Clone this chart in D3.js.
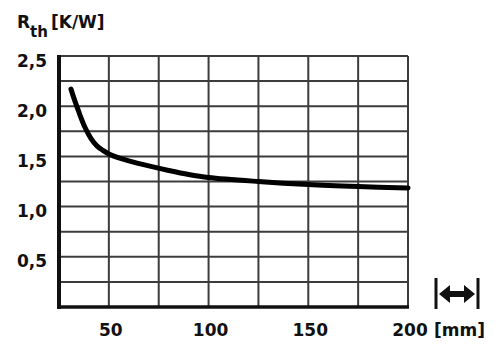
<!DOCTYPE html>
<html>
<head>
<meta charset="utf-8">
<script src="https://cdn.jsdelivr.net/npm/d3@7"></script>
<style>
  html, body { margin: 0; padding: 0; background: #fff; }
  text { font-family: "DejaVu Sans", sans-serif; font-weight: bold; fill: #111; }
</style>
</head>
<body>
<svg id="chart"></svg>
<script>
const width = 499;
const height = 352;

// curve: length [mm] -> R_th [K/W]
const lengthMm = [31, 33, 35, 38, 41, 44, 47, 50, 55, 60, 70, 80, 90, 100, 125, 150, 175, 200];
const rth = [2.17, 2.05, 1.94, 1.79, 1.68, 1.605, 1.56, 1.525, 1.485, 1.455, 1.405, 1.36, 1.32, 1.29, 1.25, 1.22, 1.20, 1.185];

const xGrid = [25, 50, 75, 100, 125, 150, 175, 200];
const yGrid = [0, 0.25, 0.5, 0.75, 1, 1.25, 1.5, 1.75, 2, 2.25, 2.5];
const xLabels = [50, 100, 150, 200];
const yLabels = [0.5, 1, 1.5, 2, 2.5];

const svg = d3.select('#chart')
    .attr('width', width)
    .attr('height', height);

const x = d3.scaleLinear().domain([25, 200]).range([59, 408]);
const y = d3.scaleLinear().domain([0, 2.5]).range([307, 56]);

const fmt = d => d.toFixed(1).replace('.', ',');

// grid
svg.append('g').selectAll('line').data(xGrid).enter().append('line')
    .attr('x1', d => x(d)).attr('x2', d => x(d))
    .attr('y1', y(0)).attr('y2', y(2.5))
    .attr('stroke', '#3c3c3c')
    .attr('stroke-width', 2);

svg.append('g').selectAll('line').data(yGrid).enter().append('line')
    .attr('x1', x(25)).attr('x2', x(200))
    .attr('y1', d => y(d)).attr('y2', d => y(d))
    .attr('stroke', '#3c3c3c')
    .attr('stroke-width', 2);

// heavy left and bottom border
svg.append('line')
    .attr('x1', x(25)).attr('x2', x(25))
    .attr('y1', y(2.5) - 1).attr('y2', y(0) + 2)
    .attr('stroke', '#111').attr('stroke-width', 4);
svg.append('line')
    .attr('x1', x(25) - 2).attr('x2', x(200) + 1)
    .attr('y1', y(0)).attr('y2', y(0))
    .attr('stroke', '#111').attr('stroke-width', 3.5);

// curve
const line = d3.line()
    .x((d, i) => x(lengthMm[i]))
    .y(d => y(d))
    .curve(d3.curveCatmullRom.alpha(0.5));

svg.append('path')
    .datum(rth)
    .attr('fill', 'none')
    .attr('stroke', '#000')
    .attr('stroke-width', 5)
    .attr('stroke-linecap', 'round')
    .attr('d', line);

// tick labels
svg.append('g').selectAll('text').data(xLabels).enter().append('text')
    .attr('x', d => x(d) + 2)
    .attr('y', 336)
    .attr('text-anchor', 'middle')
    .attr('font-size', 17)
    .text(d => d);

svg.append('text')
    .attr('x', 434)
    .attr('y', 336)
    .attr('font-size', 17)
    .text('[mm]');

svg.append('g').selectAll('text').data(yLabels).enter().append('text')
    .attr('x', 47)
    .attr('y', d => y(d) + 10.5)
    .attr('text-anchor', 'end')
    .attr('font-size', 17)
    .text(d => fmt(d));

// axis title
const title = svg.append('text')
    .attr('x', 17)
    .attr('y', 28)
    .attr('font-size', 17);
title.append('tspan').text('R');
title.append('tspan').attr('font-size', 15).attr('dy', 9).text('th');
title.append('tspan').attr('dy', -9).attr('dx', 3).text('[K/W]');

// length arrow icon
const ax0 = 436, ax1 = 478, ay = 294;
const icon = svg.append('g');
icon.append('line').attr('x1', ax0).attr('x2', ax0).attr('y1', 278).attr('y2', 309)
    .attr('stroke', '#111').attr('stroke-width', 3);
icon.append('line').attr('x1', ax1).attr('x2', ax1).attr('y1', 278).attr('y2', 309)
    .attr('stroke', '#111').attr('stroke-width', 3);
icon.append('path')
    .attr('d', `M${ax0 + 3},${ay} L${ax0 + 14},${ay - 9} L${ax0 + 14},${ay - 3} L${ax1 - 14},${ay - 3} L${ax1 - 14},${ay - 9} L${ax1 - 3},${ay} L${ax1 - 14},${ay + 9} L${ax1 - 14},${ay + 3} L${ax0 + 14},${ay + 3} L${ax0 + 14},${ay + 9} Z`)
    .attr('fill', '#111');
</script>
</body>
</html>
